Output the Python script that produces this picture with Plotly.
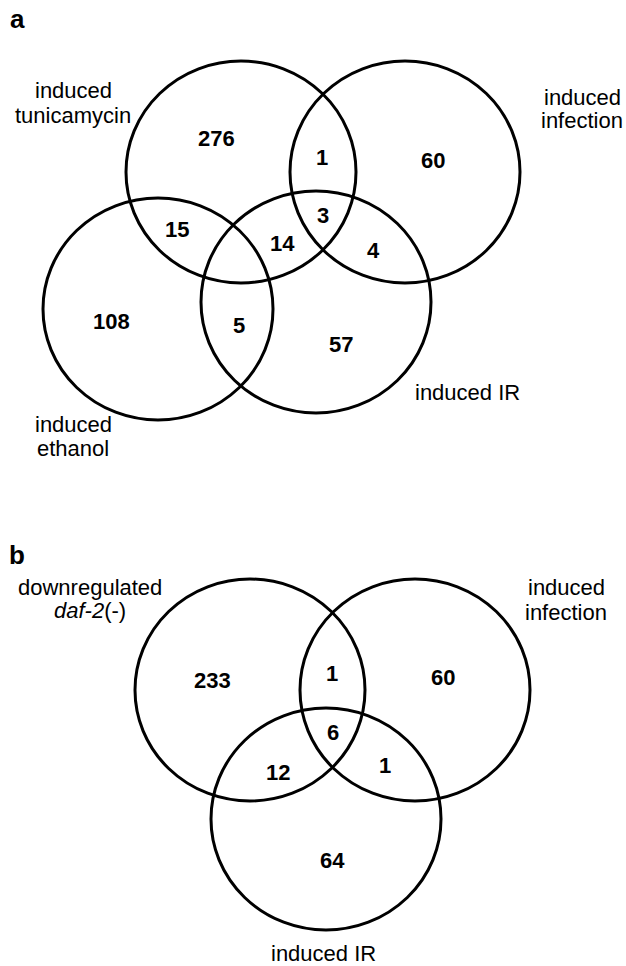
import plotly.graph_objects as go

# ---------------- data ----------------
# panel a: four sets
a_set_names = ["induced tunicamycin", "induced infection", "induced ethanol", "induced IR"]
a_region_keys = ["T", "Inf", "E", "IR", "T&Inf", "T&E", "T&IR", "T&Inf&IR", "Inf&IR", "E&IR"]
a_region_counts = [276, 60, 108, 57, 1, 15, 14, 3, 4, 5]

# panel b: three sets
b_set_names = ["downregulated <i>daf-2</i>(-)", "induced infection", "induced IR"]
b_region_keys = ["D", "Inf", "IR", "D&Inf", "D&Inf&IR", "D&IR", "Inf&IR"]
b_region_counts = [233, 60, 64, 1, 6, 12, 1]

panel_letters = ["a", "b"]

# ---------------- layout (positions in pixel space) ----------------
W, H = 626, 966
RX, RY = 115, 111

a_circles = {"T": (241, 172), "Inf": (405, 172), "E": (158, 309), "IR": (316, 302)}
b_circles = {"D": (250, 690), "Inf": (415, 690), "IR": (326, 819)}

a_count_pos = {
    "T": (216, 138), "Inf": (433, 160), "E": (111, 321), "IR": (341, 344),
    "T&Inf": (322, 157), "T&E": (177, 229), "T&IR": (282, 243),
    "T&Inf&IR": (323, 215), "Inf&IR": (373, 250), "E&IR": (239, 325),
}
b_count_pos = {
    "D": (212, 680), "Inf": (443, 677), "IR": (332, 860),
    "D&Inf": (332, 673), "D&Inf&IR": (333, 732), "D&IR": (278, 772), "Inf&IR": (385, 765),
}

# set labels: (x, [y per line])
a_label_pos = [(73, [90, 115]), (582, [97, 120]), (73, [424, 448]), (467, [392])]
b_label_pos = [(90, [587, 610]), (566, [587, 612]), (323, [953])]
letter_pos = [(17, 19), (17, 555)]

FONT = "Liberation Sans, Arial, Helvetica, sans-serif"

fig = go.Figure()
fig.add_trace(go.Scatter(x=[0, W], y=[0, H], mode="markers", marker=dict(opacity=0),
                         hoverinfo="skip", showlegend=False))

shapes = []
for circles in (a_circles, b_circles):
    for key, (cx, cy) in circles.items():
        shapes.append(dict(type="circle", xref="x", yref="y",
                           x0=cx - RX, x1=cx + RX, y0=cy - RY, y1=cy + RY,
                           line=dict(color="black", width=3), fillcolor="rgba(0,0,0,0)"))

annotations = []

def add_text(text, x, y, size, bold=False):
    annotations.append(dict(x=x, y=y, xref="x", yref="y", text=(f"<b>{text}</b>" if bold else text),
                            showarrow=False, xanchor="center", yanchor="middle",
                            font=dict(family=FONT, size=size, color="black")))

for keys, counts, pos in ((a_region_keys, a_region_counts, a_count_pos),
                          (b_region_keys, b_region_counts, b_count_pos)):
    for k, c in zip(keys, counts):
        x, y = pos[k]
        add_text(str(c), x, y, 22, bold=True)

for names, poss in ((a_set_names, a_label_pos), (b_set_names, b_label_pos)):
    for name, (x, ys) in zip(names, poss):
        lines = name.split(" ", 1) if len(ys) == 2 else [name]
        for line, y in zip(lines, ys):
            add_text(line, x, y, 22)

for letter, (x, y) in zip(panel_letters, letter_pos):
    add_text(letter, x, y, 26, bold=True)

fig.update_layout(
    width=W, height=H,
    margin=dict(l=0, r=0, t=0, b=0),
    paper_bgcolor="white", plot_bgcolor="white",
    xaxis=dict(range=[0, W], visible=False, showgrid=False, zeroline=False, fixedrange=True),
    yaxis=dict(range=[H, 0], visible=False, showgrid=False, zeroline=False, fixedrange=True),
    shapes=shapes, annotations=annotations, showlegend=False,
)

fig.write_html("out.html", config={"displayModeBar": False},
               post_script="document.body.style.margin='0';document.body.style.overflow='hidden';")
